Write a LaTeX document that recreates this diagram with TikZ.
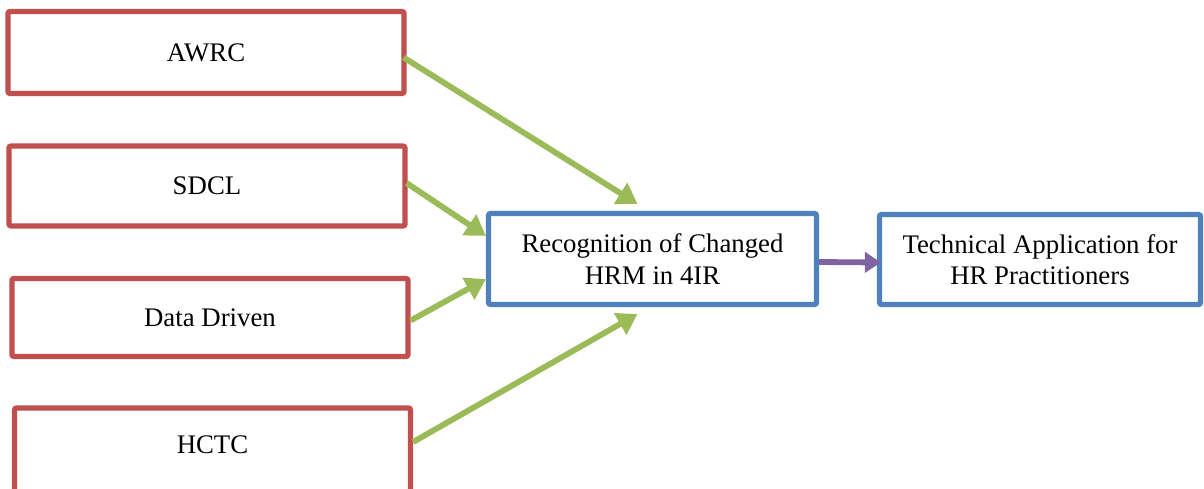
\documentclass[tikz,border=0pt]{standalone}
\usepackage{fontspec}
\setmainfont{Liberation Serif}
\newfontfamily\timesfont{Liberation Serif}
\usetikzlibrary{arrows.meta,calc}
\definecolor{boxred}{HTML}{C0504D}
\definecolor{boxblue}{HTML}{4F81BD}
\definecolor{arrgreen}{HTML}{9BBB59}
\definecolor{arrpurple}{HTML}{8064A2}
\tikzset{
  redbox/.style={draw=boxred, line width=2.6pt, rounded corners=1pt, fill=white,
    minimum width=198pt, minimum height=40pt, inner sep=0pt,
    font=\timesfont\fontsize{13.4pt}{15.8pt}\selectfont, align=center},
  bluebox/.style={draw=boxblue, line width=2.6pt, rounded corners=1pt, fill=white,
    inner sep=0pt, font=\timesfont\fontsize{13.4pt}{15.8pt}\selectfont, align=center},
  greenarrow/.style={draw=arrgreen, line width=2.9pt,
    -{Triangle[length=10pt,width=12pt]}},
  purplearrow/.style={draw=arrpurple, line width=2.9pt,
    -{Triangle[length=8pt,width=10pt]}}
}
\begin{document}
\begin{tikzpicture}[x=0.5pt,y=-0.5pt]
\useasboundingbox (0,0) rectangle (1204,488);
\begin{scope}
\clip (0,0) rectangle (1204,488);
\node[redbox, minimum height=41pt] (awrc) at (206,52.5) {AWRC};
\node[redbox, minimum height=40pt] (sdcl) at (207,186) {SDCL};
\node[redbox, minimum height=39pt] (data) at (210,317.5) {Data Driven};
\node[redbox, minimum height=42pt] (hctc) at (212.5,450) {\raisebox{5pt}{HCTC}};
\node[bluebox, minimum width=164pt, minimum height=45.5pt] (rec) at (652.5,259) {Recognition of Changed\\HRM in 4IR};
\node[bluebox, minimum width=160.5pt, minimum height=45pt] (tech) at (1040,259.5) {Technical Application for\\HR Practitioners};
\coordinate (t1) at ($(rec.north)+(-15,-7)$);
\coordinate (t2) at ($(rec.north west)+(0,25)$);
\coordinate (t3) at ($(rec.south west)+(0,-28)$);
\coordinate (t4) at ($(rec.south)+(-15,7)$);
\draw[greenarrow] ($(awrc.east)+(-3,5)$) -- (t1);
\draw[greenarrow] ($(sdcl.east)+(-1,-3)$) -- (t2);
\draw[greenarrow] ($(data.east)+(0,3)$) -- (t3);
\draw[greenarrow] ($(hctc.east)+(0,-8)$) -- (t4);
\draw[purplearrow] ($(rec.east)+(0,3)$) -- ($(tech.west)+(4,3)$);
\end{scope}
\end{tikzpicture}
\end{document}
